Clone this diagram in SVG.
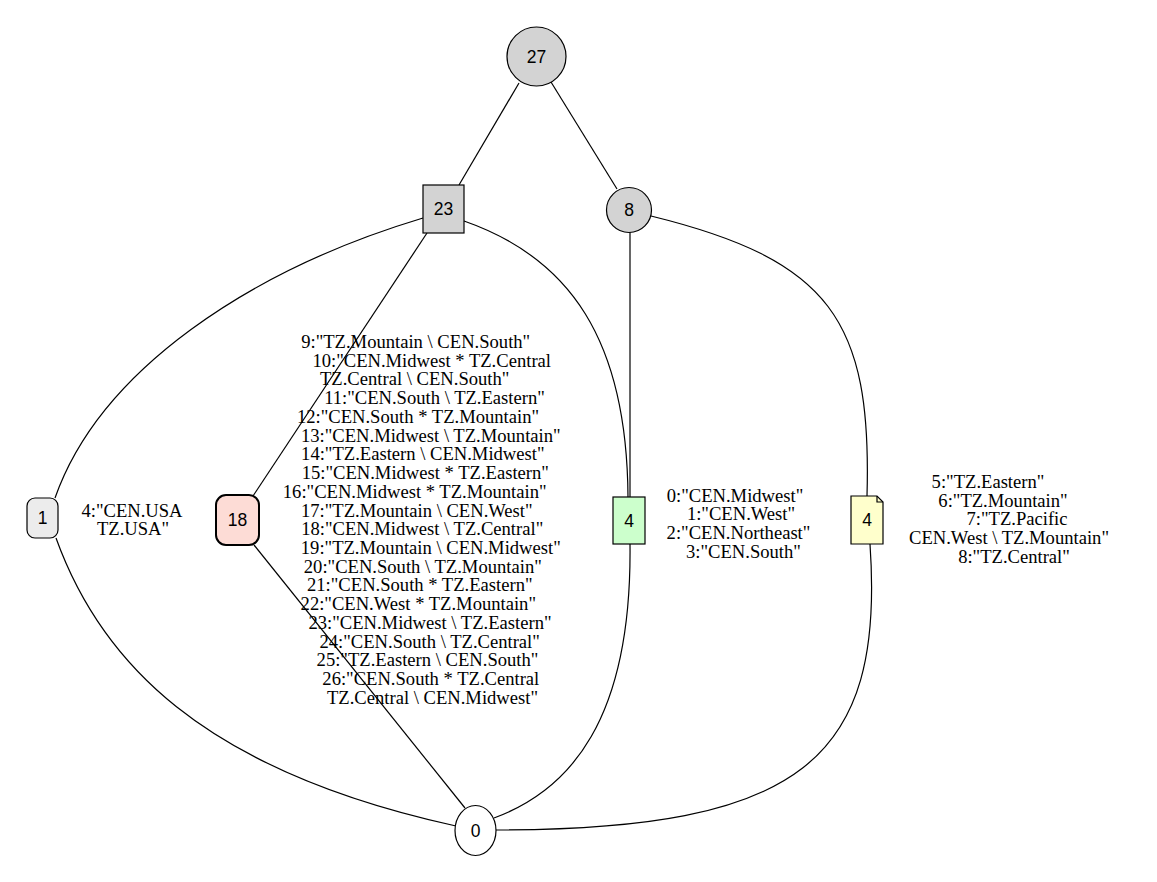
<svg xmlns="http://www.w3.org/2000/svg" width="1157" height="882" viewBox="0 0 1157 882">
  <style>
    .edge { fill: none; stroke: #000; stroke-width: 1.2; }
    .node { stroke: #000; stroke-width: 1.2; }
    .nlabel { font-family: "Liberation Sans", Arial, sans-serif; font-size: 17.5px; text-anchor: middle; fill: #000; }
    .elabel { font-family: "Liberation Serif", "Times New Roman", serif; font-size: 18.6px; text-anchor: middle; fill: #000; }
  </style>
  <rect width="1157" height="882" fill="#fff"/>

  <!-- connectors -->
  <g id="edges">
    <path class="edge" d="M519,83 L459,185"/>
    <path class="edge" d="M551,82 L617,189"/>
    <path class="edge" d="M423,218 C 250,270 100,370 55,498"/>
    <path class="edge" d="M427,233 L253,496"/>
    <path class="edge" d="M464,221 C 570,258 627,340 628,497"/>
    <path class="edge" d="M630,232 L630,497"/>
    <path class="edge" d="M651,216 C 830,260 872,320 867,496"/>
    <path class="edge" d="M56,538 C 100,660 200,770 456,826"/>
    <path class="edge" d="M254,545 L465,808"/>
    <path class="edge" d="M630,544 C 632,720 570,790 494,818"/>
    <path class="edge" d="M870,544 C 885,760 800,830 496,830"/>
  </g>

  <!-- edge labels -->
  <g id="label-1">
    <text class="elabel" x="132" y="516.5">4:"CEN.USA</text>
    <text class="elabel" x="133" y="535.2">TZ.USA"</text>
  </g>
  <g id="label-18">
    <text class="elabel" x="415.7" y="348">9:"TZ.Mountain \ CEN.South"</text>
    <text class="elabel" x="431.7" y="366.7">10:"CEN.Midwest * TZ.Central</text>
    <text class="elabel" x="414.7" y="385.4">TZ.Central \ CEN.South"</text>
    <text class="elabel" x="434.5" y="404.2">11:"CEN.South \ TZ.Eastern"</text>
    <text class="elabel" x="418" y="422.9">12:"CEN.South * TZ.Mountain"</text>
    <text class="elabel" x="430.8" y="441.6">13:"CEN.Midwest \ TZ.Mountain"</text>
    <text class="elabel" x="422.8" y="460.3">14:"TZ.Eastern \ CEN.Midwest"</text>
    <text class="elabel" x="425.3" y="479">15:"CEN.Midwest * TZ.Eastern"</text>
    <text class="elabel" x="414.7" y="497.8">16:"CEN.Midwest * TZ.Mountain"</text>
    <text class="elabel" x="416.8" y="516.5">17:"TZ.Mountain \ CEN.West"</text>
    <text class="elabel" x="422.2" y="535.2">18:"CEN.Midwest \ TZ.Central"</text>
    <text class="elabel" x="430.8" y="553.9">19:"TZ.Mountain \ CEN.Midwest"</text>
    <text class="elabel" x="422.8" y="572.6">20:"CEN.South \ TZ.Mountain"</text>
    <text class="elabel" x="419.8" y="591.4">21:"CEN.South * TZ.Eastern"</text>
    <text class="elabel" x="418.3" y="610.1">22:"CEN.West * TZ.Mountain"</text>
    <text class="elabel" x="430" y="628.8">23:"CEN.Midwest \ TZ.Eastern"</text>
    <text class="elabel" x="429.7" y="647.5">24:"CEN.South \ TZ.Central"</text>
    <text class="elabel" x="427.5" y="666.2">25:"TZ.Eastern \ CEN.South"</text>
    <text class="elabel" x="430.8" y="685">26:"CEN.South * TZ.Central</text>
    <text class="elabel" x="432.5" y="703.7">TZ.Central \ CEN.Midwest"</text>
  </g>
  <g id="label-4a">
    <text class="elabel" x="735" y="501.7">0:"CEN.Midwest"</text>
    <text class="elabel" x="741" y="520.4">1:"CEN.West"</text>
    <text class="elabel" x="738.5" y="539.1">2:"CEN.Northeast"</text>
    <text class="elabel" x="743.5" y="557.8">3:"CEN.South"</text>
  </g>
  <g id="label-4b">
    <text class="elabel" x="988" y="488">5:"TZ.Eastern"</text>
    <text class="elabel" x="1003" y="506.7">6:"TZ.Mountain"</text>
    <text class="elabel" x="1017" y="525.4">7:"TZ.Pacific</text>
    <text class="elabel" x="1009" y="544.2">CEN.West \ TZ.Mountain"</text>
    <text class="elabel" x="1014" y="562.9">8:"TZ.Central"</text>
  </g>

  <!-- nodes -->
  <g id="n27">
    <circle class="node" cx="536.5" cy="56.5" r="29.5" fill="#d3d3d3"/>
    <text class="nlabel" x="536.5" y="62.5">27</text>
  </g>
  <g id="n23">
    <rect class="node" x="423" y="185" width="41" height="48" fill="#d3d3d3"/>
    <text class="nlabel" x="443.5" y="215">23</text>
  </g>
  <g id="n8">
    <circle class="node" cx="629" cy="210" r="22.5" fill="#d3d3d3"/>
    <text class="nlabel" x="629" y="216">8</text>
  </g>
  <g id="n1">
    <rect class="node" x="27" y="498" width="31" height="40" rx="8" ry="8" fill="#ececec"/>
    <text class="nlabel" x="42.5" y="524">1</text>
  </g>
  <g id="n18">
    <rect x="216" y="495" width="43" height="50" rx="10" ry="10" fill="#fddcd6" stroke="#000" stroke-width="2"/>
    <text class="nlabel" x="237.5" y="526">18</text>
  </g>
  <g id="n4a">
    <rect class="node" x="613" y="497" width="32" height="47" fill="#ccffcc"/>
    <text class="nlabel" x="629" y="527">4</text>
  </g>
  <g id="n4b">
    <path class="node" d="M851,496 H877 L883,502 V544 H851 Z" fill="#ffffcc"/>
    <path class="node" d="M877,496 V502 H883" fill="none"/>
    <text class="nlabel" x="867" y="526">4</text>
  </g>
  <g id="n0">
    <ellipse class="node" cx="475.5" cy="830.5" rx="20.5" ry="25" fill="#fff"/>
    <text class="nlabel" x="475.5" y="836.5">0</text>
  </g>
</svg>
